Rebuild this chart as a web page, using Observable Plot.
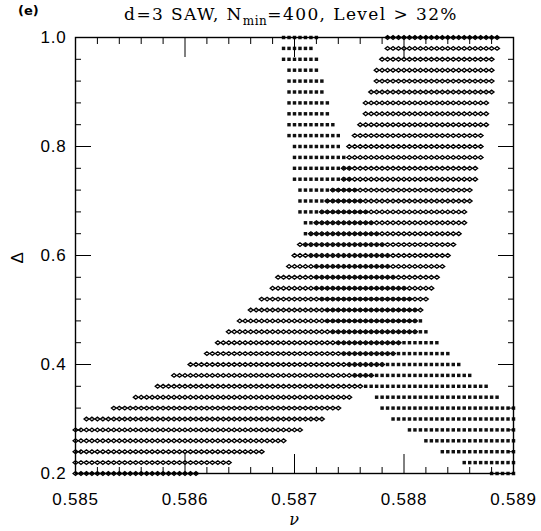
<!DOCTYPE html>
<html><head><meta charset="utf-8">
<script src="https://cdn.jsdelivr.net/npm/d3@7"></script>
<script src="https://cdn.jsdelivr.net/npm/@observablehq/plot@0.6"></script>
<style>
body{margin:0;background:#fff;}
#wrap{position:relative;width:541px;height:531px;overflow:hidden;}
#head{position:relative;height:30px;}
#tag{position:absolute;left:18px;top:3px;font:bold 13px "DejaVu Sans",sans-serif;}
#title{position:absolute;left:0;width:582px;text-align:center;top:4px;font:17px "DejaVu Serif",serif;letter-spacing:1.4px;white-space:nowrap;}
#title .sub{font-size:12px;position:relative;top:5px;letter-spacing:0.5px;}
#chart svg text{letter-spacing:0.8px;}
</style></head><body>
<div id="wrap"><div id="head"><span id="tag">(e)</span><div id="title">d=3 SAW, N<span class="sub">min</span>=400, Level &gt; 32%</div></div><div id="chart"></div></div>
<script>
// Rows of the scan (Δ values, top to bottom)
const deltaRows = [1.00,0.98,0.96,0.94,0.92,0.90,0.88,0.86,0.84,0.82,
                   0.80,0.78,0.76,0.74,0.72,0.70,0.68,0.66,0.64,0.62,
                   0.60,0.58,0.56,0.54,0.52,0.50,0.48,0.46,0.44,0.42,
                   0.40,0.38,0.36,0.34,0.32,0.30,0.28,0.26,0.24,0.22,0.20];
// open diamonds: first and last ν on the row
const circleFrom = [0.58785,0.58785,0.58780,0.58775,0.58775,0.58770,0.58765,0.58765,0.58760,0.58755,
                    0.58750,0.58750,0.58745,0.58745,0.58735,0.58730,0.58725,0.58720,0.58715,0.58705,
                    0.58700,0.58695,0.58685,0.58680,0.58670,0.58660,0.58650,0.58640,0.58630,0.58620,
                    0.58605,0.58590,0.58575,0.58555,0.58535,0.58510,0.58500,0.58500,0.58500,0.58500,0.58500];
const circleTo   = [0.58885,0.58885,0.58880,0.58880,0.58880,0.58880,0.58875,0.58875,0.58875,0.58870,
                    0.58870,0.58870,0.58865,0.58865,0.58860,0.58860,0.58855,0.58855,0.58850,0.58845,
                    0.58840,0.58835,0.58830,0.58825,0.58820,0.58815,0.58810,0.58810,0.58795,0.58790,
                    0.58780,0.58770,0.58760,0.58750,0.58740,0.58725,0.58705,0.58690,0.58670,0.58640,0.58610];
// filled squares: first and last ν on the row
const squareFrom = [0.58690,0.58690,0.58690,0.58695,0.58695,0.58695,0.58695,0.58695,0.58695,0.58695,
                    0.58700,0.58700,0.58700,0.58700,0.58705,0.58705,0.58705,0.58710,0.58710,0.58710,
                    0.58715,0.58720,0.58720,0.58720,0.58725,0.58730,0.58730,0.58735,0.58740,0.58745,
                    0.58750,0.58755,0.58765,0.58775,0.58780,0.58790,0.58805,0.58820,0.58835,0.58855,0.58880];
const squareTo   = [0.58720,0.58715,0.58720,0.58720,0.58725,0.58725,0.58730,0.58730,0.58735,0.58740,
                    0.58740,0.58745,0.58750,0.58750,0.58755,0.58760,0.58765,0.58770,0.58775,0.58780,
                    0.58785,0.58785,0.58790,0.58800,0.58805,0.58810,0.58815,0.58820,0.58830,0.58840,
                    0.58850,0.58860,0.58875,0.58885,0.58900,0.58900,0.58900,0.58900,0.58900,0.58900,0.58900];
const nuStart = 0.585, nuStep = 0.00005; // scan grid in ν
const xMajor = [0.585,0.586,0.587,0.588,0.589];
const xMinor = [0.5852,0.5854,0.5856,0.5858,0.5862,0.5864,0.5866,0.5868,
                0.5872,0.5874,0.5876,0.5878,0.5882,0.5884,0.5886,0.5888];
const yMajor = [0.2,0.4,0.6,0.8,1.0];
const yMinor = [0.24,0.28,0.32,0.36,0.44,0.48,0.52,0.56,0.64,0.68,0.72,0.76,0.84,0.88,0.92,0.96];

function gridRows(from, to) {
  const pts = [];
  deltaRows.forEach((d, i) => {
    const k0 = Math.round((from[i] - nuStart) / nuStep);
    const k1 = Math.round((to[i] - nuStart) / nuStep);
    for (let k = k0; k <= k1; k++) pts.push({nu: nuStart + k * nuStep, delta: d});
  });
  return pts;
}
const circles = gridRows(circleFrom, circleTo);
const squares = gridRows(squareFrom, squareTo);

const wideDiamond = {
  draw(context, size) {
    const r = Math.sqrt(size / Math.PI);
    context.moveTo(-r * 1.1, 0);
    context.lineTo(0, -r * 0.85);
    context.lineTo(r * 1.1, 0);
    context.lineTo(0, r * 0.85);
    context.closePath();
  }
};
const blank = () => "";

const chart = Plot.plot({
  width: 541, height: 501,
  marginLeft: 75, marginRight: 28, marginTop: 7, marginBottom: 58,
  x: {domain: [0.585, 0.589], axis: null},
  y: {domain: [0.2, 1.0], axis: null},
  style: {fontFamily: '"Liberation Sans", Arial, sans-serif', fontSize: "17px", color: "black", background: "white", overflow: "visible"},
  marks: [
    Plot.dot(circles, {x: "nu", y: "delta", symbol: wideDiamond, r: 2.2, stroke: "black", strokeWidth: 1.3, fill: "none"}),
    Plot.dot(squares, {x: "nu", y: "delta", symbol: "square", r: 1.95, fill: "#111", stroke: "none"}),
    Plot.frame({stroke: "black", strokeWidth: 1.4}),
    Plot.axisX(xMajor, {anchor: "bottom", tickSize: 0, tickPadding: 19, tickFormat: d3.format(".3f"), fontSize: 17, label: null}),
    Plot.axisX(xMajor, {anchor: "bottom", tickSize: -19, tickFormat: blank, label: null}),
    Plot.axisX(xMinor, {anchor: "bottom", tickSize: -6, tickFormat: blank, label: null}),
    Plot.axisX(xMajor, {anchor: "top", tickSize: -19, tickFormat: blank, label: null}),
    Plot.axisX(xMinor, {anchor: "top", tickSize: -6, tickFormat: blank, label: null}),
    Plot.axisY(yMajor, {anchor: "left", tickSize: 0, tickPadding: 9, tickFormat: d3.format(".1f"), fontSize: 17, label: null}),
    Plot.axisY(yMajor, {anchor: "left", tickSize: -16, tickFormat: blank, label: null}),
    Plot.axisY(yMinor, {anchor: "left", tickSize: -6, tickFormat: blank, label: null}),
    Plot.axisY(yMajor, {anchor: "right", tickSize: -16, tickFormat: blank, label: null}),
    Plot.axisY(yMinor, {anchor: "right", tickSize: -6, tickFormat: blank, label: null}),
    Plot.text(["ν"], {frameAnchor: "bottom", dy: 51, fontSize: 16, fontFamily: '"DejaVu Serif", serif', fontStyle: "italic"}),
    Plot.text(["Δ"], {frameAnchor: "left", dx: -58, dy: 8, rotate: -90, fontSize: 17})
  ]
});
document.getElementById("chart").appendChild(chart);
</script>
</body></html>
